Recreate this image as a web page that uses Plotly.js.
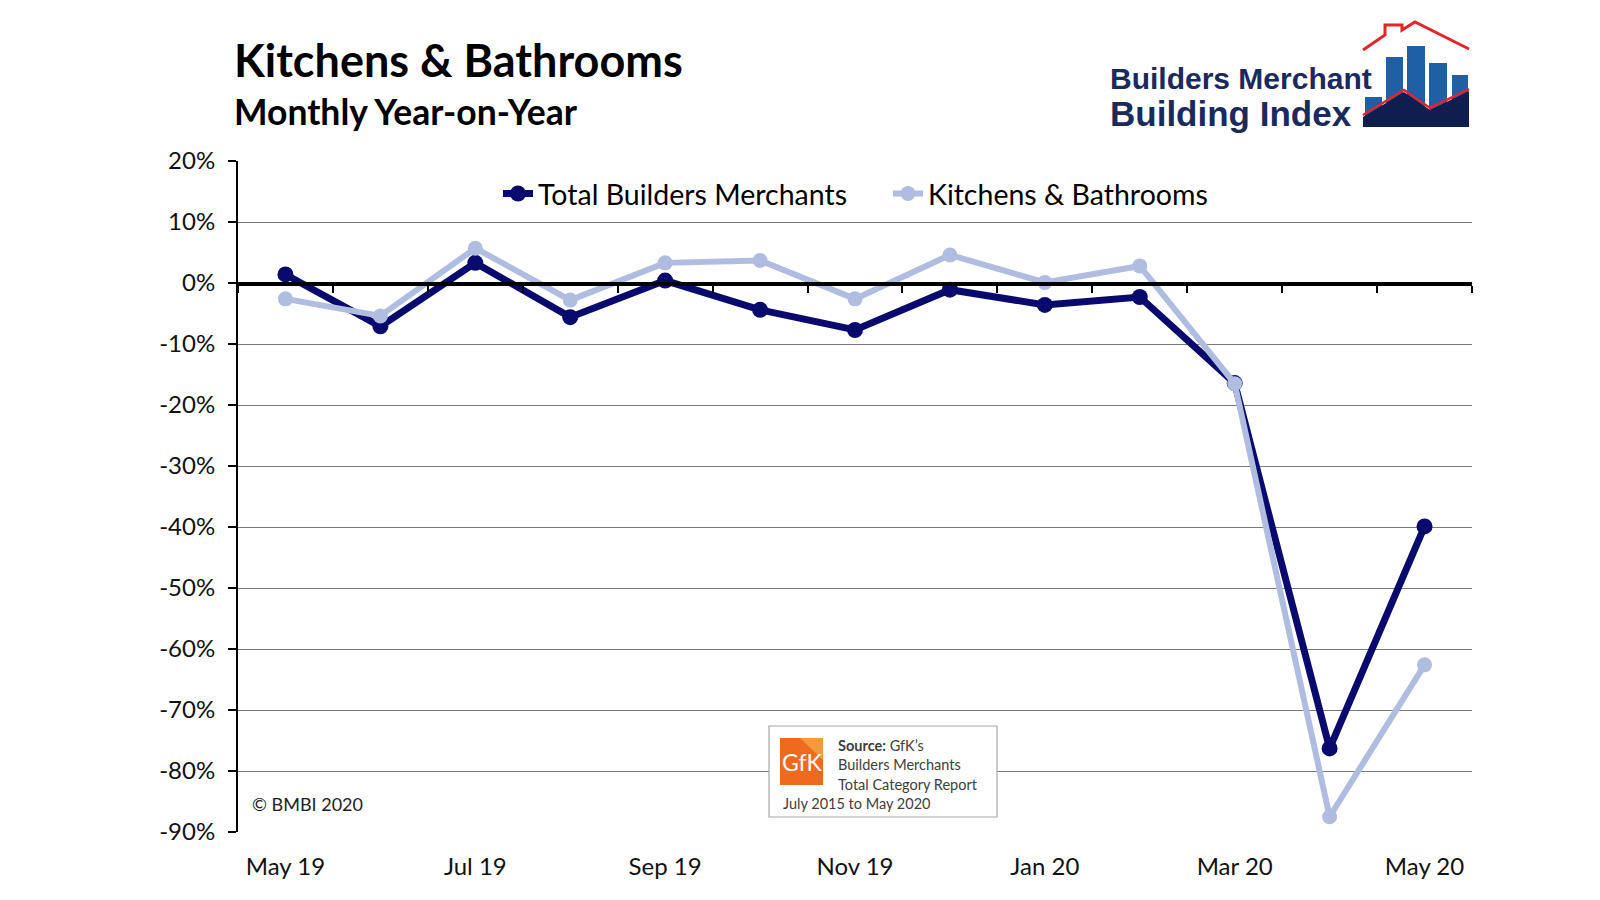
<!DOCTYPE html>
<html><head><meta charset="utf-8">
<script src="https://cdn.plot.ly/plotly-3.0.1.min.js"></script>
<style>html,body{margin:0;padding:0;background:#fff;}#chart{width:1600px;height:900px;}</style>
</head><body><div id="chart"></div>
<script>
// ---- data ----
const months = ['May 19','Jun 19','Jul 19','Aug 19','Sep 19','Oct 19','Nov 19','Dec 19','Jan 20','Feb 20','Mar 20','Apr 20','May 20'];
const tickLabels = ['May 19','Jul 19','Sep 19','Nov 19','Jan 20','Mar 20','May 20'];
const totalBuildersMerchants = [1.4,-7.1,3.3,-5.6,0.4,-4.4,-7.7,-1.1,-3.6,-2.3,-16.4,-76.3,-39.9];
const kitchensBathrooms = [-2.6,-5.4,5.7,-2.8,3.3,3.7,-2.6,4.6,0.1,2.8,-16.5,-87.5,-62.6];
const yTicks = [20,10,0,-10,-20,-30,-40,-50,-60,-70,-80,-90];
const yTickText = yTicks.map(v => v + '%');
const yMin = -90, yMax = 20;

// ---- layout helpers (pixel -> paper) ----
const W = 1600, H = 900;
const M = {l:238, r:128, t:161, b:68};
const PW = W - M.l - M.r, PH = H - M.t - M.b;
const X = px => (px - M.l) / PW;
const Y = py => (H - M.b - py) / PH;
const path = (pts, close) => pts.map((p,i)=>(i?'L':'M')+X(p[0]).toFixed(5)+','+Y(p[1]).toFixed(5)).join(' ') + (close?' Z':'');

const FONT = 'Lato, "Open Sans", sans-serif';
const dark = '#0a0a6e', light = '#b0bde0';

const traces = [
  {x: months, y: totalBuildersMerchants, name: 'Total Builders Merchants', type: 'scatter', mode: 'lines+markers',
   line: {color: dark, width: 7}, marker: {color: dark, size: 16}},
  {x: months, y: kitchensBathrooms, name: 'Kitchens & Bathrooms', type: 'scatter', mode: 'lines+markers',
   line: {color: light, width: 6}, marker: {color: light, size: 15}},
  {x: [], y: [], xaxis: 'x2', showlegend: false, hoverinfo: 'skip', type: 'scatter', mode: 'lines'}
];

const bars = [[1365,1382,97],[1386,1403,57],[1407,1425,46],[1429,1447,63],[1452,1468,75]];
const shapes = [];
bars.forEach(b => shapes.push({type:'rect', xref:'paper', yref:'paper', x0:X(b[0]), x1:X(b[1]), y0:Y(127), y1:Y(b[2]),
  fillcolor:'#1f5fa6', line:{width:0}, layer:'above'}));
shapes.push({type:'path', xref:'paper', yref:'paper', path: path([[1363,127],[1363,117],[1404,92],[1430,110],[1469,91],[1469,127]], true),
  fillcolor:'#0f1d4f', line:{width:0}, layer:'above'});
shapes.push({type:'path', xref:'paper', yref:'paper', path: path([[1363,115],[1404,90],[1430,108],[1469,89]], false),
  line:{color:'#e3242b', width:2.5}, layer:'above'});
shapes.push({type:'path', xref:'paper', yref:'paper', path: path([[1363,50],[1385,35],[1385,25],[1402,25],[1402,30],[1415,22],[1469,49]], false),
  line:{color:'#e3242b', width:3}, layer:'above'});
// source box
shapes.push({type:'rect', xref:'paper', yref:'paper', x0:X(769), x1:X(997), y0:Y(817), y1:Y(726),
  fillcolor:'#ffffff', line:{color:'#a8a8a8', width:1.2}, layer:'above'});
shapes.push({type:'rect', xref:'paper', yref:'paper', x0:X(780), x1:X(823), y0:Y(785), y1:Y(738),
  fillcolor:'#ed6a1f', line:{width:0}, layer:'above'});
shapes.push({type:'path', xref:'paper', yref:'paper', path: path([[800,738],[823,738],[823,760]], true),
  fillcolor:'#f39a3a', line:{width:0}, layer:'above'});

const ann = (text, px, py, size, opts) => Object.assign({text, xref:'paper', yref:'paper', x:X(px), y:Y(py),
  xanchor:'left', yanchor:'middle', showarrow:false, font:{family:FONT, size, color:'#000'}}, opts||{});

const annotations = [
  ann('<b>Kitchens & Bathrooms</b>', 232, 60, 45, {font:{family:FONT, size:45, color:'#000', weight:900}}),
  ann('<b>Monthly Year-on-Year</b>', 232, 111, 35.5, {font:{family:FONT, size:35.5, color:'#000', weight:900}}),
  ann('<b>Builders Merchant</b>', 1108, 79, 30, {font:{family:'"Liberation Sans", Arial, sans-serif', size:30, color:'#1b2a5c'}}),
  ann('<b>Building Index</b>', 1108, 113, 35, {font:{family:'"Liberation Sans", Arial, sans-serif', size:35, color:'#1b2a5c'}}),
  ann('GfK', 801.5, 762, 23, {xanchor:'center', font:{family:FONT, size:23, color:'#ffffff'}}),
  ann('<b>Source:</b> GfK\u2019s', 836, 745, 14.5, {font:{family:FONT, size:14.5, color:'#404040'}}),
  ann('Builders Merchants', 836, 764, 14.5, {font:{family:FONT, size:14.5, color:'#404040'}}),
  ann('Total Category Report', 836, 784, 14.5, {font:{family:FONT, size:14.5, color:'#404040'}}),
  ann('July 2015 to May 2020', 781, 803, 14.5, {font:{family:FONT, size:14.5, color:'#404040'}}),
  ann('\u00a9 BMBI 2020', 250, 804, 18, {font:{family:FONT, size:18, color:'#222'}})
];

const layout = {
  width: W, height: H, margin: M, paper_bgcolor:'#fff', plot_bgcolor:'#fff',
  font: {family: FONT, color:'#000'},
  showlegend: true,
  legend: {orientation:'h', x: X(498), y: Y(194), xanchor:'left', yanchor:'middle', bgcolor:'rgba(0,0,0,0)',
    font:{family:FONT, size:28.5, color:'#000'}, itemwidth:30, entrywidth:345, entrywidthmode:'pixels'},
  xaxis: {type:'category', categoryorder:'array', categoryarray: months, range:[-0.5, months.length-0.5],
    tickmode:'array', tickvals: tickLabels, ticktext: tickLabels, showgrid:false, showline:false, zeroline:false,
    ticks:'', ticklabelstandoff: 18, tickfont:{family:FONT, size:24, color:'#111'}, fixedrange:true},
  xaxis2: {overlaying:'x', anchor:'free', position:(0 - yMin)/(yMax - yMin), side:'bottom', type:'linear',
    range:[-0.5, months.length-0.5], tickmode:'linear', tick0:-0.5, dtick:1, ticks:'outside', ticklen:7, tickwidth:2,
    tickcolor:'#000', showline:true, linecolor:'#000', linewidth:3.5, showticklabels:false, showgrid:false, zeroline:false},
  yaxis: {range:[yMin, yMax], tickmode:'array', tickvals: yTicks, ticktext: yTickText, showgrid:true, gridcolor:'#7a7a7a', gridwidth:1,
    showline:true, linecolor:'#000', linewidth:2, ticks:'outside', ticklen:8, tickwidth:1.5, tickcolor:'#000', zeroline:false,
    ticklabelstandoff: 8, tickfont:{family:FONT, size:24, color:'#111'}},
  shapes, annotations
};

Plotly.newPlot('chart', traces, layout, {displayModeBar:false, staticPlot:true});
</script></body></html>
